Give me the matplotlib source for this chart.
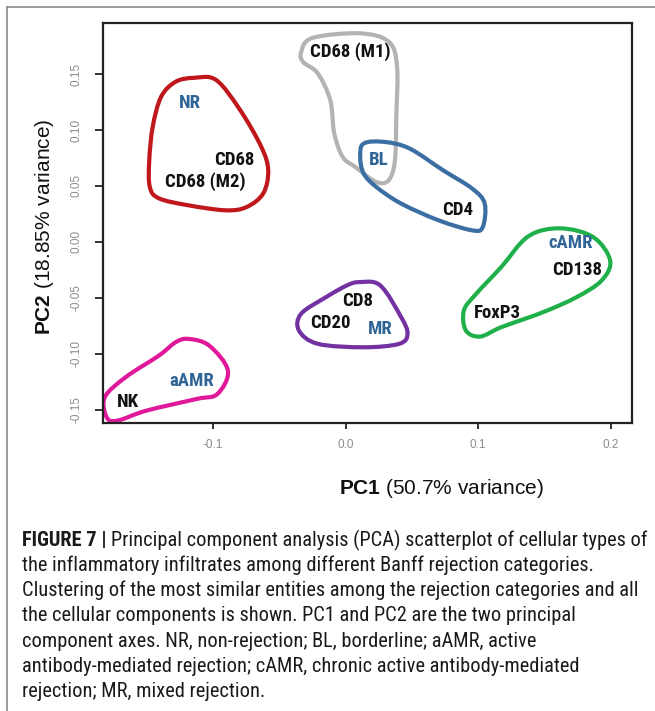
import numpy as np
import matplotlib
matplotlib.use("Agg")
import matplotlib.pyplot as plt
from matplotlib.path import Path
from matplotlib.patches import PathPatch
from matplotlib.lines import Line2D
from matplotlib import font_manager

# pick a condensed family that has both a regular and a bold face
weights = {}
for f in font_manager.fontManager.ttflist:
    w = f.weight if isinstance(f.weight, int) else font_manager.weight_dict.get(f.weight, 400)
    weights.setdefault(f.name, set()).add(w)
narrow = [n for n in weights if ("Narrow" in n or "Condensed" in n)
          and max(weights[n]) >= 600 and min(weights[n]) <= 500]
prefer = ["Liberation Sans Narrow", "Arial Narrow", "Roboto Condensed", "Noto Sans Condensed",
          "Open Sans Condensed"]
narrow.sort(key=lambda n: prefer.index(n) if n in prefer else len(prefer))
NARROW = narrow[0] if narrow else "Liberation Sans"

plt.rcParams["font.family"] = ["Liberation Sans", "DejaVu Sans"]
plt.rcParams["mathtext.fontset"] = "custom"
plt.rcParams["mathtext.rm"] = "Liberation Sans"
plt.rcParams["mathtext.bf"] = "Liberation Sans:bold"

# point labels (PC1, PC2)
cell_labels = ["CD68 (M1)", "CD68", "CD68 (M2)", "CD4", "CD138", "FoxP3", "CD8", "CD20", "NK"]
cell_pc1 = [0.0035, -0.0840, -0.1061, 0.0842, 0.1742, 0.1143, 0.0087, -0.0116, -0.1644]
cell_pc2 = [0.1696, 0.0730, 0.0535, 0.0282, -0.0255, -0.0640, -0.0524, -0.0721, -0.1434]

group_labels = ["NR", "BL", "cAMR", "MR", "aAMR"]
group_pc1 = [-0.1172, 0.0246, 0.1694, 0.0261, -0.1157]
group_pc2 = [0.1240, 0.0730, -0.0013, -0.0777, -0.1240]

# cluster outlines (PC1, PC2)
nr_hull = [(-0.1142, 0.1466), (-0.0976, 0.1446), (-0.0795, 0.1177), (-0.0636, 0.0849),
           (-0.0584, 0.0640), (-0.0621, 0.0434), (-0.0746, 0.0312), (-0.0903, 0.0282),
           (-0.1187, 0.0327), (-0.1408, 0.0389), (-0.1477, 0.0491), (-0.1481, 0.0730),
           (-0.1455, 0.1028), (-0.1392, 0.1296), (-0.1282, 0.1431)]
m1_hull = [(-0.0335, 0.1696), (-0.0252, 0.1822), (0.0103, 0.1864), (0.0325, 0.1789),
           (0.0388, 0.1565), (0.0382, 0.1117), (0.0372, 0.0730), (0.0325, 0.0551),
           (0.0231, 0.0535), (0.0072, 0.0670), (-0.0022, 0.0759), (-0.0086, 0.0971),
           (-0.0116, 0.1267), (-0.0210, 0.1506), (-0.0320, 0.1607)]
bl_hull = [(0.0136, 0.0879), (0.0293, 0.0893), (0.0483, 0.0834), (0.0735, 0.0640),
           (0.0955, 0.0476), (0.1049, 0.0342), (0.1034, 0.0132), (0.0955, 0.0103),
           (0.0703, 0.0192), (0.0419, 0.0342), (0.0231, 0.0491), (0.0136, 0.0611),
           (0.0110, 0.0759)]
camr_hull = [(0.1377, 0.0049), (0.1616, 0.0121), (0.1867, 0.0043), (0.1995, -0.0166),
             (0.1931, -0.0345), (0.1742, -0.0494), (0.1490, -0.0628), (0.1173, -0.0763),
             (0.1015, -0.0846), (0.0907, -0.0792), (0.0892, -0.0613), (0.0985, -0.0464),
             (0.1173, -0.0226)]
mr_hull = [(0.0103, -0.0360), (0.0261, -0.0389), (0.0419, -0.0673), (0.0467, -0.0822),
           (0.0404, -0.0911), (0.0136, -0.0942), (-0.0210, -0.0911), (-0.0352, -0.0792),
           (-0.0336, -0.0643), (-0.0148, -0.0494), (0.0010, -0.0389)]
aamr_hull = [(-0.1187, -0.0867), (-0.1029, -0.0927), (-0.0888, -0.1150), (-0.0967, -0.1359),
             (-0.1124, -0.1404), (-0.1502, -0.1508), (-0.1722, -0.1598), (-0.1802, -0.1568),
             (-0.1817, -0.1389), (-0.1660, -0.1210), (-0.1408, -0.1016), (-0.1282, -0.0897)]

hulls = [nr_hull, m1_hull, bl_hull, camr_hull, mr_hull, aamr_hull]
hull_colors = ["#c0171c", "#b3b3b3", "#3b6fa3", "#1fb04a", "#7431a2", "#e0189a"]

xticks = [-0.1, 0.0, 0.1, 0.2]
yticks = [-0.15, -0.10, -0.05, 0.00, 0.05, 0.10, 0.15]

caption_head = "FIGURE 7 |"
caption = [
    "Principal component analysis (PCA) scatterplot of cellular types of",
    "the inflammatory infiltrates among different Banff rejection categories.",
    "Clustering of the most similar entities among the rejection categories and all",
    "the cellular components is shown. PC1 and PC2 are the two principal",
    "component axes. NR, non-rejection; BL, borderline; aAMR, active",
    "antibody-mediated rejection; cAMR, chronic active antibody-mediated",
    "rejection; MR, mixed rejection.",
]


def closed_curve(pts):
    # smooth closed outline through the points (catmull-rom as bezier)
    p = np.asarray(pts)
    n = len(p)
    verts = [p[0]]
    codes = [Path.MOVETO]
    for i in range(n):
        p0, p1, p2, p3 = p[i - 1], p[i], p[(i + 1) % n], p[(i + 2) % n]
        verts += [p1 + (p2 - p0) / 6, p2 - (p3 - p1) / 6, p2]
        codes += [Path.CURVE4] * 3
    return Path(verts, codes)


fig = plt.figure(figsize=(6.55, 7.11), dpi=100)
ax = fig.add_axes([103 / 655, 1 - 422.7 / 711, 529 / 655, 399.7 / 711])
ax.set_xlim(-0.183, 0.216)
ax.set_ylim(-0.1616, 0.1956)

for pts, c in zip(hulls, hull_colors):
    ax.add_patch(PathPatch(closed_curve(pts), facecolor="none", edgecolor=c, lw=3.0))

lab_size = 13.5 if narrow else 12.5
for s, x, y in zip(cell_labels, cell_pc1, cell_pc2):
    ax.text(x, y, s, ha="center", va="center", fontsize=lab_size, fontweight="bold",
            family=NARROW, color="#111111")
for s, x, y in zip(group_labels, group_pc1, group_pc2):
    ax.text(x, y, s, ha="center", va="center", fontsize=lab_size, fontweight="bold",
            family=NARROW, color="#2f6496")

ax.set_xticks(xticks)
ax.set_xticklabels(["-0.1", "0.0", "0.1", "0.2"])
ax.set_yticks(yticks)
ax.set_yticklabels(["-0.15", "-0.10", "-0.05", "0.00", "0.05", "0.10", "0.15"],
                   rotation=90, va="center")
ax.tick_params(axis="both", width=1.3, color="#222222", labelcolor="#8c8c8c",
               labelsize=8.5)
ax.tick_params(axis="x", length=4.5, pad=7.5)
ax.tick_params(axis="y", length=6, pad=8.5)
for sp in ax.spines.values():
    sp.set_linewidth(1.6)
    sp.set_color("#222222")

ax.set_xlabel(r"$\bf{PC1}$ (50.7% variance)", fontsize=15, color="#111111", va="center")
ax.xaxis.set_label_coords((441 - 103) / 529, (422.7 - 488) / 399.7)
ax.set_ylabel(r"$\bf{PC2}$ (18.85% variance)", fontsize=15, color="#111111", va="center")
ax.yaxis.set_label_coords((45 - 103) / 529, (422.7 - 227) / 399.7)

# outer frame
fig.add_artist(Line2D([7 / 655, 7 / 655], [0, 1 - 7 / 711], transform=fig.transFigure,
                      color="#8a8a8a", lw=1.2))
fig.add_artist(Line2D([7 / 655, 1], [1 - 7 / 711, 1 - 7 / 711], transform=fig.transFigure,
                      color="#8a8a8a", lw=1.2))

# caption, size fitted so the first line spans the same width as the source
cx = 22 / 655
cap_size = 13.0
head = fig.text(cx, 1 - 540 / 711, caption_head, family=NARROW, fontweight="bold",
                fontsize=cap_size, va="center", color="#1a1a1a")
first = fig.text(0, 1 - 540 / 711, caption[0], family=NARROW, fontsize=cap_size,
                 va="center", color="#1a1a1a")
fig.canvas.draw()
w = head.get_window_extent().width + 5 + first.get_window_extent().width
cap_size = cap_size * 623 / w
head.set_fontsize(cap_size)
first.set_fontsize(cap_size)
fig.canvas.draw()
bb = head.get_window_extent()
first.set_x((bb.x1 + 4) / fig.bbox.width)
for i, line in enumerate(caption[1:]):
    fig.text(cx, 1 - (540 + 25.3 * (i + 1)) / 711, line, family=NARROW,
             fontsize=cap_size, va="center", color="#1a1a1a")

fig.savefig("out.png", dpi=100)
